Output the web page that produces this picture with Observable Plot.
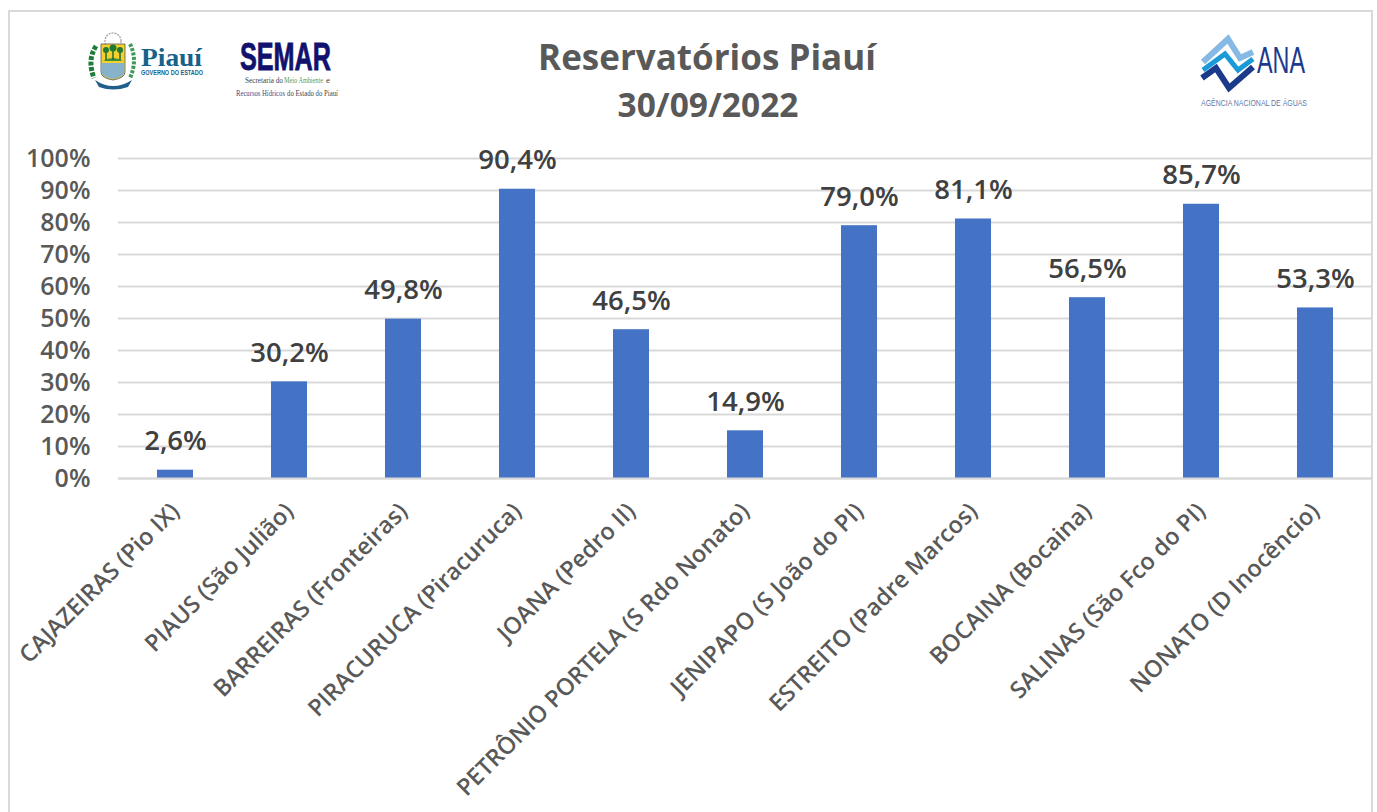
<!DOCTYPE html>
<html lang="pt-BR">
<head>
<meta charset="utf-8">
<title>Reservatórios Piauí</title>
<style>
html,body{margin:0;padding:0;background:#fff;width:1377px;height:812px;overflow:hidden;font-family:"Open Sans",sans-serif}
#page{position:relative;width:1377px;height:812px}
#frame{position:absolute;left:8px;top:10px;width:1361px;height:810px;border:2px solid #d9d9d9;box-sizing:content-box;pointer-events:none}
#header{position:absolute;left:0;top:0;width:1377px;height:130px}
#chart{position:absolute;left:0;top:130px}
#chart svg{display:block;overflow:visible}
</style>
</head>
<body>
<div id="page">
  <div id="header">
    <svg width="1377" height="130" viewBox="0 0 1377 130" xmlns="http://www.w3.org/2000/svg">
      <text x="707" y="70" text-anchor="middle" font-family="Open Sans" font-weight="700" font-size="35" fill="#595959">Reservatórios Piauí</text>
      <text x="708" y="117" text-anchor="middle" font-family="Open Sans" font-weight="700" font-size="33.500" fill="#595959">30/09/2022</text>
      <!-- Piauí crest -->
      <g>
        <circle cx="113" cy="41" r="8" fill="none" stroke="#9a9a9a" stroke-width="1.2" stroke-dasharray="2 1"/>
        <path d="M101 44H125V72Q125 78 113 80Q101 78 101 72Z" fill="#f4cf2e" stroke="#555" stroke-width="0.8"/>
        <path d="M101.500 63H124.500V72Q124.500 77 113 79Q101.500 77 101.500 72Z" fill="#86b3c9"/>
        <path d="M103 61Q113 55 123 61Z" fill="#3f8f3c"/>
        <path d="M106 60V51M113 60V48M120 60V51" stroke="#1f6b2c" stroke-width="1.500"/>
        <circle cx="106" cy="50" r="3" fill="#1f7a34"/><circle cx="113" cy="48" r="3.500" fill="#1f7a34"/><circle cx="120" cy="50" r="3" fill="#1f7a34"/>
        <path d="M96 46Q87 60 94 78" fill="none" stroke="#1d7d38" stroke-width="5" stroke-dasharray="4 1.500"/>
        <path d="M130 44Q138 60 130 78" fill="none" stroke="#3d9a58" stroke-width="4" stroke-dasharray="3 1.500"/>
        <path d="M95 80Q113 92 132 80L128 87Q113 92 99 87Z" fill="#1f5f8c"/>
      </g>
      <text x="141" y="66" font-family="Liberation Serif" font-weight="700" font-size="25" fill="#17628a" textLength="61" lengthAdjust="spacingAndGlyphs">Piauí</text>
      <text x="141" y="75" font-family="Liberation Sans" font-weight="700" font-size="6.500" fill="#17628a" textLength="62" lengthAdjust="spacingAndGlyphs">GOVERNO DO ESTADO</text>
      <!-- SEMAR -->
      <text x="240" y="70" font-family="Liberation Sans" font-weight="700" font-size="38" fill="#11126e" stroke="#11126e" stroke-width="0.8" textLength="91" lengthAdjust="spacingAndGlyphs">SEMAR</text>
      <text x="245" y="83" font-family="Liberation Serif" font-size="9" fill="#444" textLength="38" lengthAdjust="spacingAndGlyphs">Secretaria do</text>
      <text x="284" y="83" font-family="Liberation Serif" font-size="9" fill="#4f9a63" textLength="39" lengthAdjust="spacingAndGlyphs">Meio Ambiente</text>
      <text x="326" y="83" font-family="Liberation Serif" font-size="9" fill="#444">e</text>
      <text x="236" y="96" font-family="Liberation Serif" font-size="9" fill="#3d4a8c" textLength="49" lengthAdjust="spacingAndGlyphs">Recursos Hídricos</text>
      <text x="287" y="96" font-family="Liberation Serif" font-size="9" fill="#444" textLength="51" lengthAdjust="spacingAndGlyphs">do Estado do Piauí</text>
      <!-- ANA -->
      <path d="M1203 62L1228 39L1240 58L1253 52" fill="none" stroke="#86b9e3" stroke-width="6"/>
      <path d="M1203 70L1225 54L1238 70L1253 59" fill="none" stroke="#1a9bd8" stroke-width="5"/>
      <path d="M1202 78L1216 68L1229 88L1253 67" fill="none" stroke="#1c3a8c" stroke-width="6"/>
      <text x="1257" y="73" font-family="Liberation Sans" font-size="36" fill="#1c3a8c" textLength="48" lengthAdjust="spacingAndGlyphs">ANA</text>
      <text x="1201" y="106" font-family="Liberation Sans" font-size="9" fill="#5f78a8" textLength="106" lengthAdjust="spacingAndGlyphs">AGÊNCIA NACIONAL DE ÁGUAS</text>
    </svg>
  </div>
  <div id="chart"></div>
  <div id="frame"></div>
</div>
<script src="https://cdn.jsdelivr.net/npm/d3@7"></script>
<script src="https://cdn.jsdelivr.net/npm/@observablehq/plot@0.6"></script>
<script>
const reservoirs = ["CAJAZEIRAS (Pio IX)","PIAUS (São Julião)","BARREIRAS (Fronteiras)","PIRACURUCA (Piracuruca)","JOANA (Pedro II)","PETRÔNIO PORTELA (S Rdo Nonato)","JENIPAPO (S João do PI)","ESTREITO (Padre Marcos)","BOCAINA (Bocaina)","SALINAS (São Fco do PI)","NONATO (D Inocêncio)"];
const volumes = [2.6,30.2,49.8,90.4,46.5,14.9,79.0,81.1,56.5,85.7,53.3];
const yTicks = [0,10,20,30,40,50,60,70,80,90,100];

const rows = reservoirs.map((name,i)=>({name,value:volumes[i]}));
const pct = v => v.toFixed(1).replace(".",",")+"%";

const plot = Plot.plot({
  width:1377,
  height:682,
  marginLeft:118,
  marginRight:5,
  marginTop:28,
  marginBottom:334,
  style:{background:"transparent",fontFamily:"Open Sans",overflow:"visible"},
  x:{type:"band",domain:reservoirs,paddingInner:0.684,paddingOuter:0.342,round:false,label:null},
  y:{domain:[0,100],label:null},
  marks:[
    Plot.ruleY(yTicks,{stroke:"#d9d9d9",strokeWidth:2,strokeOpacity:1}),
    Plot.barY(rows,{x:"name",y:"value",fill:"#4472c4"}),
    Plot.ruleY([0],{stroke:"#d9d9d9",strokeWidth:2,strokeOpacity:1}),
    Plot.text(rows,{x:"name",y:"value",text:d=>pct(d.value),lineAnchor:"bottom",dy:-20,fontSize:27.500,fontWeight:600,fill:"#404040"}),
    Plot.axisY({ticks:yTicks,tickSize:0,tickPadding:28,tickFormat:d=>d+"%",fontSize:25,fontWeight:600,fill:"#595959",label:null}),
    Plot.axisX({tickSize:0,tickRotate:-45,tickPadding:29,fontSize:23.500,fontWeight:600,fill:"#595959",label:null,lineWidth:100})
  ]
});
document.getElementById("chart").appendChild(plot);
</script>
</body>
</html>
